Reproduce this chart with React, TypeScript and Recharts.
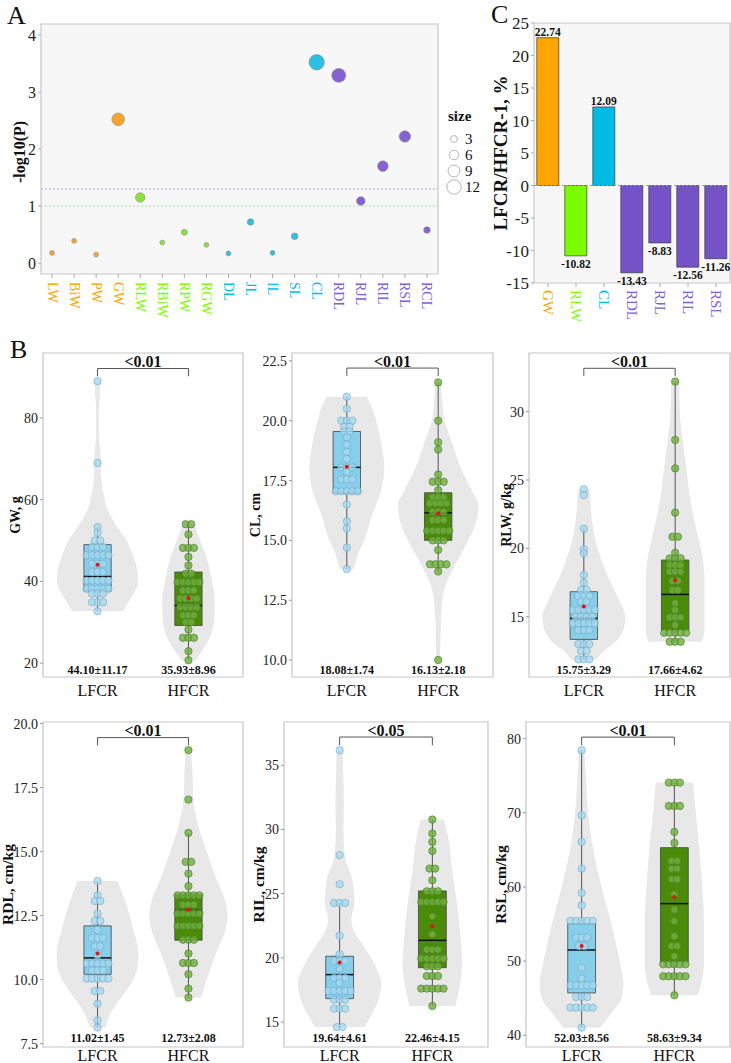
import React from 'react';
import {
  ScatterChart, Scatter, XAxis, YAxis, CartesianGrid, ReferenceLine, ReferenceArea, Legend,
  BarChart, Bar, Cell, LabelList, ComposedChart, Area, Line,
} from 'recharts';

const SERIF = '"Liberation Serif", "Times New Roman", serif';

// ---- A: -log10(P) per trait
const traitNames = ['LW', 'BiW', 'PW', 'GW', 'RLW', 'RBiW', 'RPW', 'RGW', 'DL', 'JL', 'IL', 'SL', 'CL', 'RDL', 'RJL', 'RIL', 'RSL', 'RCL'];
const traitGroups = ['w', 'w', 'w', 'w', 'rw', 'rw', 'rw', 'rw', 'l', 'l', 'l', 'l', 'l', 'rl', 'rl', 'rl', 'rl', 'rl'];
const traitNegLogP = [0.18, 0.39, 0.15, 2.52, 1.15, 0.36, 0.54, 0.32, 0.17, 0.72, 0.18, 0.47, 3.52, 3.29, 1.09, 1.7, 2.22, 0.58];
const traitSize = [0.5, 0.5, 0.5, 9.8, 6, 0.5, 1.9, 0.5, 0.5, 2.4, 0.5, 2.6, 13.1, 11.4, 5, 7.4, 8.3, 2.6];
const sizeBreaks = [3, 6, 9, 12];
const aTicks = [0, 1, 2, 3, 4];

// ---- C: LFCR/HFCR - 1
const changeNames = ['GW', 'RLW', 'CL', 'RDL', 'RJL', 'RIL', 'RSL'];
const changeGroups = ['w', 'rw', 'l', 'rl', 'rl', 'rl', 'rl'];
const changeValues = [22.74, -10.82, 12.09, -13.43, -8.83, -12.56, -11.26];
const cTicks = [-15, -10, -5, 0, 5, 10, 15, 20, 25];

// ---- B: per-animal values, LFCR vs HFCR
const groupNames = ['LFCR', 'HFCR'];

const gwLow = [89, 69, 53.3, 51.9, 50, 50, 48.4, 48.4, 48.4, 46.4, 46.4, 46.4, 46.4, 46.4, 44.3, 44.3, 44.3, 42.3, 42.3, 42.3, 40.2, 40.2, 40.2, 40.2, 40.2, 38.2, 38.2, 38.2, 38.2, 38.2, 37, 37, 37, 34.9, 34.9, 34.9, 32.7];
const gwHigh = [54, 54, 51.5, 48.2, 48.2, 48.2, 46, 43.9, 41.9, 41.9, 39.8, 39.8, 39.8, 39.8, 39.8, 37.8, 37.8, 37.8, 35.8, 35.8, 35.8, 35.8, 33.7, 33.7, 33.7, 33.7, 31.7, 31.7, 31.7, 30, 30, 28.2, 26.2, 26.2, 26.2, 22.9, 20.7];
const gwLowViolin = [[32.7, 0.28], [35, 0.34], [37.5, 0.41], [40, 0.445], [42.5, 0.44], [45, 0.41], [47.5, 0.37], [50, 0.32], [52.5, 0.24], [55, 0.17], [58, 0.1], [61, 0.07], [64, 0.045], [67, 0.035], [69, 0.04], [72, 0.03], [76, 0.015], [80, 0.015], [84, 0.02], [87, 0.03], [88.9, 0.025]];
const gwHighViolin = [[20.7, 0.08], [23, 0.15], [26, 0.23], [30, 0.28], [35, 0.29], [40, 0.26], [45, 0.21], [50, 0.13], [54, 0.065]];
const gwBoxes = [[32.7, 37.6, 41.2, 49.0, 53.3], [20.7, 29.2, 34.1, 42.3, 54]];
const gwMeans = [44.1, 35.93];
const gwSds = [11.17, 8.96];

const clLow = [21.0, 20.5, 20.0, 20.0, 20.0, 19.75, 19.75, 19.55, 19.55, 19.3, 19.0, 18.7, 18.4, 18.05, 18.05, 18.05, 17.85, 17.55, 17.55, 17.55, 17.05, 17.05, 17.05, 17.05, 17.05, 16.5, 15.8, 15.5, 14.7, 13.8];
const clHigh = [21.6, 20.0, 19.1, 18.8, 17.75, 17.45, 17.45, 17.45, 17.1, 16.8, 16.8, 16.8, 16.55, 16.55, 16.55, 16.55, 16.2, 16.2, 16.2, 15.85, 15.85, 15.85, 15.4, 15.4, 15.4, 15.4, 15.4, 15.0, 15.0, 15.0, 14.6, 14.0, 14.0, 14.0, 14.0, 13.7, 10.0];
const clLowViolin = [[13.8, 0.08], [14.5, 0.13], [15, 0.19], [16, 0.27], [17, 0.37], [18, 0.41], [19, 0.38], [20, 0.32], [20.6, 0.27], [21, 0.22]];
const clHighViolin = [[10, 0.02], [11, 0.025], [12, 0.035], [13, 0.07], [14, 0.19], [15, 0.33], [16, 0.43], [16.5, 0.44], [17, 0.38], [18, 0.25], [19, 0.16], [20, 0.07], [21, 0.04], [21.6, 0.03]];
const clBoxes = [[13.8, 16.97, 18.05, 19.55, 21.0], [13.68, 15.0, 16.15, 16.99, 21.58]];
const clMeans = [18.08, 16.13];
const clSds = [1.74, 2.18];

const rlwLow = [24.32, 23.9, 21.44, 19.93, 19.63, 18.05, 17.49, 16.95, 16.95, 16.51, 16.51, 16.51, 16.1, 16.1, 15.49, 15.49, 15.49, 15.49, 15.49, 15.0, 15.0, 15.0, 15.0, 14.51, 14.51, 14.51, 14.51, 14.51, 14.02, 14.02, 14.02, 13.0, 13.0, 13.0, 12.5, 12.5, 11.88, 11.88, 11.88];
const rlwHigh = [32.2, 27.93, 25.85, 22.61, 20.85, 20.85, 19.68, 19.27, 19.27, 19.27, 18.78, 18.78, 18.78, 18.29, 18.29, 18.29, 17.61, 17.61, 16.95, 16.95, 15.98, 15.49, 14.95, 14.95, 14.95, 14.39, 13.83, 13.83, 13.83, 13.83, 13.83, 13.17, 13.17, 13.17];
const rlwLowViolin = [[11.88, 0.14], [12.5, 0.22], [13, 0.32], [14, 0.43], [15, 0.455], [16, 0.4], [17, 0.33], [18, 0.26], [19, 0.2], [20, 0.15], [22, 0.09], [24.3, 0.065]];
const rlwHighViolin = [[13.17, 0.29], [14, 0.32], [16, 0.32], [18, 0.32], [20, 0.28], [22, 0.21], [24, 0.155], [26, 0.12], [28, 0.08], [30, 0.05], [32.2, 0.045]];
const rlwBoxes = [[11.88, 13.34, 14.88, 16.83, 21.44], [13.17, 14.02, 16.63, 19.15, 32.2]];
const rlwMeans = [15.75, 17.66];
const rlwSds = [3.29, 4.62];

const rdlLow = [13.85, 13.29, 13.07, 13.07, 12.58, 12.29, 12.29, 11.95, 11.63, 11.63, 11.63, 11.3, 11.3, 10.95, 10.63, 10.63, 10.63, 10.63, 10.63, 10.36, 10.36, 10.36, 10.04, 10.04, 10.04, 10.04, 10.04, 9.56, 9.56, 9.06, 8.41, 8.13];
const rdlHigh = [18.96, 17.03, 15.73, 14.6, 14.6, 14.14, 13.65, 13.29, 13.29, 13.29, 13.29, 13.29, 12.93, 12.93, 12.93, 12.58, 12.58, 12.58, 12.58, 12.58, 12.1, 12.1, 12.1, 12.1, 12.1, 11.56, 11.56, 11.56, 11.02, 10.65, 10.65, 10.65, 10.21, 9.65, 9.3];
const rdlLowViolin = [[8.13, 0.09], [8.5, 0.12], [9, 0.2], [9.5, 0.3], [10, 0.39], [10.5, 0.44], [11, 0.45], [12, 0.39], [13, 0.31], [13.85, 0.22]];
const rdlHighViolin = [[9.3, 0.14], [10, 0.2], [11, 0.3], [12, 0.41], [12.5, 0.43], [13, 0.41], [14, 0.3], [15, 0.2], [16, 0.11], [17, 0.055], [18, 0.045], [18.96, 0.03]];
const rdlBoxes = [[8.13, 10.21, 10.85, 12.1, 13.85], [9.3, 11.54, 12.7, 13.33, 15.73]];
const rdlMeans = [11.02, 12.73];
const rdlSds = [1.45, 2.08];

const rilLow = [36.17, 28.0, 25.73, 24.27, 24.27, 24.27, 21.73, 20.27, 19.75, 19.75, 19.75, 19.13, 18.43, 18.43, 18.43, 18.04, 17.42, 17.42, 17.42, 17.42, 17.42, 16.74, 16.74, 16.74, 16.04, 16.04, 16.04, 14.6, 14.6];
const rilHigh = [30.77, 29.68, 29.03, 28.32, 26.95, 26.95, 26.04, 25.18, 25.18, 25.18, 24.35, 24.35, 24.35, 24.35, 24.35, 23.23, 21.83, 20.64, 20.64, 20.64, 19.94, 19.94, 19.94, 19.94, 19.94, 19.34, 19.34, 19.34, 18.58, 18.58, 18.58, 17.6, 17.6, 17.6, 17.6, 17.6, 16.25];
const rilLowViolin = [[14.6, 0.27], [15, 0.3], [16, 0.375], [17, 0.43], [18, 0.45], [19, 0.41], [20, 0.34], [21, 0.25], [22, 0.16], [23, 0.125], [24.3, 0.16], [26, 0.14], [28, 0.055], [30, 0.04], [32, 0.045], [34, 0.04], [36.2, 0.03]];
const rilHighViolin = [[16.25, 0.25], [17, 0.27], [18, 0.3], [19.5, 0.32], [21, 0.31], [23, 0.285], [25, 0.25], [27, 0.21], [29, 0.18], [30.77, 0.125]];
const rilBoxes = [[14.6, 16.82, 18.69, 20.12, 24.27], [16.25, 19.23, 21.36, 25.21, 30.77]];
const rilMeans = [19.64, 22.46];
const rilSds = [4.61, 4.15];

const rslLow = [78.43, 69.66, 66.07, 62.47, 59.19, 57.53, 55.42, 55.42, 55.42, 55.42, 55.42, 53.17, 53.17, 53.17, 52.04, 52.04, 49.12, 47.64, 46.74, 46.74, 46.74, 46.74, 46.74, 45.17, 45.17, 45.17, 43.73, 43.73, 43.73, 43.73, 43.73, 41.03];
const rslHigh = [74.07, 74.07, 74.07, 70.92, 70.92, 70.92, 67.42, 65.93, 63.51, 63.51, 62.47, 62.47, 61.03, 61.03, 59.0, 56.94, 55.37, 53.35, 52.04, 52.04, 50.65, 49.57, 49.57, 49.57, 49.57, 49.57, 47.96, 47.96, 47.96, 47.96, 47.96, 45.39];
const rslLowViolin = [[41.03, 0.2], [43, 0.32], [45, 0.43], [47, 0.45], [50, 0.41], [55, 0.32], [60, 0.215], [65, 0.125], [70, 0.07], [75, 0.045], [78.4, 0.03]];
const rslHighViolin = [[45.39, 0.25], [47, 0.29], [50, 0.32], [55, 0.32], [60, 0.3], [65, 0.27], [70, 0.23], [72, 0.215], [74.07, 0.2]];
const rslBoxes = [[41.03, 45.71, 51.5, 55.06, 78.43], [45.39, 49.89, 57.75, 65.3, 74.07]];
const rslMeans = [52.03, 58.63];
const rslSds = [8.56, 9.34];

// ---- colours
const groupText: Record<string, string> = { w: '#FFA500', rw: '#7CFC00', l: '#00BFEF', rl: '#7E60DD' };
const groupDot: Record<string, string> = { w: '#F9A42E', rw: '#8DE23A', l: '#2BC0E4', rl: '#8562D2' };
const groupBar: Record<string, string> = { w: '#FFA500', rw: '#7CFC00', l: '#00BCE3', rl: '#7452C8' };

const dotRadius = (s: number) => 2.2 + 0.42 * s;

const AxisTitle = (props: any) => {
  const { cx, cy, text, size } = props;
  return (
    <text x={cx} y={cy} transform={`rotate(-90 ${cx} ${cy})`} textAnchor="middle" dominantBaseline="central"
      fontFamily={SERIF} fontWeight="bold" fontSize={size} fill="#111">{text}</text>
  );
};

// ---------------- A
const aRows = traitNames.map((name, i) => ({ i, name, p: traitNegLogP[i], size: traitSize[i], group: traitGroups[i] }));

const TraitTick = (props: any) => {
  const { x, y, payload } = props;
  const i = payload.value;
  return (
    <text x={x} y={y} transform={`rotate(90 ${x} ${y})`} textAnchor="start" dominantBaseline="central"
      fontFamily={SERIF} fontSize={14} fill={groupText[traitGroups[i]]}>{traitNames[i]}</text>
  );
};

const SizeLegend = () => (
  <svg width={44} height={100} style={{ overflow: 'visible' }}>
    <text x={4} y={21} fontFamily={SERIF} fontWeight="bold" fontSize={15} fill="#111">size</text>
    {sizeBreaks.map((s, i) => (
      <g key={s}>
        <circle cx={10} cy={39 + i * 16} r={dotRadius(s)} fill="none" stroke="#b5b5b5" />
        <text x={21} y={39 + i * 16} dominantBaseline="central" fontFamily={SERIF} fontSize={15} fill="#111">{s}</text>
      </g>
    ))}
  </svg>
);

function PanelA() {
  return (
    <div style={{ position: 'absolute', left: 0, top: 0 }}>
      <ScatterChart width={480} height={330} margin={{ top: 24, right: 42, bottom: 0, left: 0 }}>
        <CartesianGrid horizontal={false} vertical={false} fill="#f7f7f7" />
        <ReferenceArea y1={-0.19} y2={4.19} fill="none" stroke="#c8c8c8" strokeWidth={1.2} ifOverflow="visible" />
        <XAxis type="number" dataKey="i" domain={[-0.5, 17.5]} ticks={aRows.map((r) => r.i)} interval={0}
          allowDataOverflow height={56} axisLine={false} tickSize={4} tickMargin={4}
          tickLine={{ stroke: '#aaa' }} tick={<TraitTick />} />
        <YAxis type="number" dataKey="p" domain={[-0.19, 4.19]} ticks={aTicks} interval={0} allowDataOverflow
          width={41} axisLine={false} tickSize={3} tickMargin={2} tickLine={{ stroke: '#aaa' }}
          tick={{ fill: '#222', fontSize: 16, fontFamily: SERIF }}
          label={<AxisTitle cx={19} cy={152} text="-log10(P)" size={16} />} />
        <ReferenceLine y={1.3} stroke="#a3a3ee" strokeDasharray="2 2" />
        <ReferenceLine y={1} stroke="#9fe39f" strokeDasharray="2 2" />
        <Scatter data={aRows} isAnimationActive={false}
          shape={(p: any) => (
            <circle cx={p.cx} cy={p.cy} r={dotRadius(p.payload.size)} fill={groupDot[p.payload.group]}
              stroke="#8c8c8c" strokeWidth={0.6} />
          )} />
        <Legend layout="vertical" align="center" verticalAlign="middle" content={SizeLegend}
          wrapperStyle={{ left: 444, top: 100, width: 44, height: 100, right: 'auto', bottom: 'auto' }} />
      </ScatterChart>
    </div>
  );
}

// ---------------- C
const cRows = changeNames.map((name, i) => ({ name, value: changeValues[i], group: changeGroups[i] }));

const ChangeTick = (props: any) => {
  const { x, y, payload, index } = props;
  return (
    <text x={x} y={y} transform={`rotate(90 ${x} ${y})`} textAnchor="start" dominantBaseline="central"
      fontFamily={SERIF} fontSize={15} fill={groupText[changeGroups[index]]}>{payload.value}</text>
  );
};

const BarValue = (props: any) => {
  const { x, y, width, height, value } = props;
  const top = Math.min(y, y + height);
  const bottom = Math.max(y, y + height);
  const ty = value >= 0 ? top - 6 : bottom + 8;
  return (
    <text x={x + width / 2} y={ty} textAnchor="middle" dominantBaseline="central" fontFamily={SERIF}
      fontWeight="bold" fontSize={11.5} fill="#111">{Number(value).toFixed(2)}</text>
  );
};

function PanelC() {
  return (
    <div style={{ position: 'absolute', left: 480, top: 0 }}>
      <BarChart width={251} height={330} data={cRows} margin={{ top: 23, right: 1, left: 0, bottom: 0 }} barCategoryGap="10%">
        <CartesianGrid horizontal={false} vertical={false} fill="#f7f7f7" />
        <ReferenceArea y1={-15} y2={25} fill="none" stroke="#c8c8c8" strokeWidth={1.2} ifOverflow="visible" />
        <XAxis dataKey="name" interval={0} height={47} axisLine={false} tickSize={4} tickMargin={3}
          tickLine={{ stroke: '#aaa' }} tick={<ChangeTick />} />
        <YAxis type="number" domain={[-15, 25]} ticks={cTicks} interval={0} allowDataOverflow width={54}
          axisLine={false} tickSize={3} tickMargin={2} tickLine={{ stroke: '#aaa' }}
          tick={{ fill: '#222', fontSize: 17, fontFamily: SERIF }}
          label={<AxisTitle cx={20} cy={153} text="LFCR/HFCR-1, %" size={19} />} />
        <ReferenceLine y={0} stroke="#9a9a9a" strokeDasharray="2 2" />
        <Bar dataKey="value" isAnimationActive={false} stroke="#3a3a3a" strokeWidth={0.7}>
          {cRows.map((r) => <Cell key={r.name} fill={groupBar[r.group]} />)}
          <LabelList dataKey="value" content={<BarValue />} />
        </Bar>
      </BarChart>
    </div>
  );
}

// ---------------- B
const HALF_BOX = 0.15;
const DOT_STEP = 0.06;

function violinRows(profile: number[][], c: number) {
  return profile.map(([v, w]) => ({ v, r: [c - w, c + w] }));
}
function boxFillRows(b: number[], c: number) {
  return [{ v: b[1], r: [c - HALF_BOX, c + HALF_BOX] }, { v: b[3], r: [c - HALF_BOX, c + HALF_BOX] }];
}
function boxOutlineRows(b: number[], c: number) {
  return [
    { x: c - HALF_BOX, v: b[1] }, { x: c + HALF_BOX, v: b[1] }, { x: c + HALF_BOX, v: b[3] },
    { x: c - HALF_BOX, v: b[3] }, { x: c - HALF_BOX, v: b[1] },
  ];
}
function swarmRows(values: number[], c: number) {
  const counts = new Map<number, number>();
  values.forEach((v) => counts.set(v, (counts.get(v) || 0) + 1));
  const seen = new Map<number, number>();
  return values.map((v) => {
    const n = counts.get(v) || 1;
    const k = seen.get(v) || 0;
    seen.set(v, k + 1);
    return { x: c + (k - (n - 1) / 2) * DOT_STEP, v };
  });
}

type PanelCfg = {
  id: string; yLabel: string; plot: number[]; labelX: number; yDomain: number[]; yTicks: number[]; digits: number;
  values: number[][]; violins: number[][][]; boxes: number[][]; means: number[]; sds: number[];
  bracket: number[]; pText: string; big: boolean;
};

const panels: PanelCfg[] = [
  { id: 'gw', yLabel: 'GW, g', plot: [43, 353, 243, 677], labelX: 15, yDomain: [16.6, 95.9], yTicks: [20, 40, 60, 80], digits: 0,
    values: [gwLow, gwHigh], violins: [gwLowViolin, gwHighViolin], boxes: gwBoxes, means: gwMeans, sds: gwSds,
    bracket: [92.1, 90.2], pText: '<0.01', big: false },
  { id: 'cl', yLabel: 'CL, cm', plot: [292, 353, 493, 677], labelX: 255, yDomain: [9.29, 22.83], yTicks: [10, 12.5, 15, 17.5, 20, 22.5], digits: 1,
    values: [clLow, clHigh], violins: [clLowViolin, clHighViolin], boxes: clBoxes, means: clMeans, sds: clSds,
    bracket: [22.2, 21.87], pText: '<0.01', big: false },
  { id: 'rlw', yLabel: 'RLW, g/kg', plot: [529, 353, 730, 677], labelX: 506, yDomain: [10.59, 34.29], yTicks: [15, 20, 25, 30], digits: 0,
    values: [rlwLow, rlwHigh], violins: [rlwLowViolin, rlwHighViolin], boxes: rlwBoxes, means: rlwMeans, sds: rlwSds,
    bracket: [33.17, 32.6], pText: '<0.01', big: false },
  { id: 'rdl', yLabel: 'RDL, cm/kg', plot: [43, 722, 243, 1047], labelX: 7, yDomain: [7.37, 20.06], yTicks: [7.5, 10, 12.5, 15, 17.5, 20], digits: 1,
    values: [rdlLow, rdlHigh], violins: [rdlLowViolin, rdlHighViolin], boxes: rdlBoxes, means: rdlMeans, sds: rdlSds,
    bracket: [19.45, 19.15], pText: '<0.01', big: true },
  { id: 'ril', yLabel: 'RIL, cm/kg', plot: [284, 722, 488, 1047], labelX: 258, yDomain: [13.05, 38.37], yTicks: [15, 20, 25, 30, 35], digits: 0,
    values: [rilLow, rilHigh], violins: [rilLowViolin, rilHighViolin], boxes: rilBoxes, means: rilMeans, sds: rilSds,
    bracket: [37.2, 36.56], pText: '<0.05', big: true },
  { id: 'rsl', yLabel: 'RSL, cm/kg', plot: [526, 722, 730, 1047], labelX: 500, yDomain: [38.42, 82.24], yTicks: [40, 50, 60, 70, 80], digits: 0,
    values: [rslLow, rslHigh], violins: [rslLowViolin, rslHighViolin], boxes: rslBoxes, means: rslMeans, sds: rslSds,
    bracket: [80.2, 79.1], pText: '<0.01', big: true },
];

const dotStyle = [
  { fill: '#a4d8ef', stroke: '#6fa7c6', opacity: 0.75 },
  { fill: '#6fae3f', stroke: '#477a22', opacity: 0.8 },
];
const boxFill = ['#87CEEB', '#4B8B0A'];

const GroupTick = (props: any) => {
  const { x, y, payload, stats, statDy, labelDy } = props;
  const i = Math.round(payload.value) - 1;
  return (
    <g>
      <text x={x} y={y - statDy} textAnchor="middle" dominantBaseline="central" fontFamily={SERIF}
        fontWeight="bold" fontSize={12} fill="#111">{stats[i]}</text>
      <text x={x} y={y + labelDy} textAnchor="middle" dominantBaseline="central" fontFamily={SERIF}
        fontSize={16} fill="#111">{groupNames[i]}</text>
    </g>
  );
};

function ViolinPanel({ cfg }: { cfg: PanelCfg }) {
  const [pl, pt, pr, pb] = cfg.plot;
  const chartLeft = Math.max(0, cfg.labelX - 10);
  const mTop = 12;
  const mRight = 2;
  const xh = 30;
  const width = pr - chartLeft + mRight;
  const height = mTop + (pb - pt) + xh;
  const stats = cfg.means.map((m, i) => `${m.toFixed(2)}±${cfg.sds[i].toFixed(2)}`);
  const [bTop, bLeg] = cfg.bracket;
  const bracketRows = [{ x: 1, v: bLeg }, { x: 1, v: bTop }, { x: 2, v: bTop }, { x: 2, v: bLeg }];
  const centers = [1, 2];

  return (
    <div style={{ position: 'absolute', left: chartLeft, top: pt - mTop }}>
      <ComposedChart layout="vertical" width={width} height={height} margin={{ top: mTop, right: mRight, left: 0, bottom: 0 }}>
        <XAxis type="number" dataKey="x" domain={[0.4, 2.6]} ticks={centers} interval={0} allowDataOverflow
          axisLine={false} tickLine={false} tickSize={0} tickMargin={0} height={xh}
          tick={<GroupTick stats={stats} statDy={cfg.big ? 9 : 7} labelDy={cfg.big ? 8 : 13} />} />
        <YAxis type="number" dataKey="v" domain={cfg.yDomain} ticks={cfg.yTicks} interval={0} allowDataOverflow reversed
          width={pl - chartLeft} axisLine={false} tickSize={3} tickMargin={2} tickLine={{ stroke: '#999' }}
          tick={{ fill: '#222', fontSize: 14, fontFamily: SERIF }}
          tickFormatter={(v: number) => v.toFixed(cfg.digits)}
          label={<AxisTitle cx={cfg.labelX - chartLeft} cy={mTop + (pb - pt) / 2} text={cfg.yLabel} size={cfg.big ? 15.5 : 14} />} />
        <ReferenceArea y1={cfg.yDomain[0]} y2={cfg.yDomain[1]} fill="none" stroke="#c6c6c6" strokeWidth={1.2} ifOverflow="visible" />
        {centers.map((c, g) => (
          <Area key={`vio${g}`} data={violinRows(cfg.violins[g], c)} dataKey="r" type="monotone"
            fill="#e8e8e8" fillOpacity={1} stroke="none" isAnimationActive={false} />
        ))}
        {centers.map((c, g) => (
          <Area key={`box${g}`} data={boxFillRows(cfg.boxes[g], c)} dataKey="r" type="linear"
            fill={boxFill[g]} fillOpacity={1} stroke="none" isAnimationActive={false} />
        ))}
        {centers.map((c, g) => (
          <Line key={`wlo${g}`} data={[{ x: c, v: cfg.boxes[g][0] }, { x: c, v: cfg.boxes[g][1] }]} dataKey="x"
            stroke="#555" strokeWidth={1} dot={false} activeDot={false} isAnimationActive={false} />
        ))}
        {centers.map((c, g) => (
          <Line key={`whi${g}`} data={[{ x: c, v: cfg.boxes[g][3] }, { x: c, v: cfg.boxes[g][4] }]} dataKey="x"
            stroke="#555" strokeWidth={1} dot={false} activeDot={false} isAnimationActive={false} />
        ))}
        {centers.map((c, g) => (
          <Line key={`out${g}`} data={boxOutlineRows(cfg.boxes[g], c)} dataKey="x"
            stroke="#444" strokeWidth={0.8} dot={false} activeDot={false} isAnimationActive={false} />
        ))}
        {centers.map((c, g) => (
          <Scatter key={`dots${g}`} data={swarmRows(cfg.values[g], c)} isAnimationActive={false}
            shape={(p: any) => (
              <circle cx={p.cx} cy={p.cy} r={3.7} fill={dotStyle[g].fill} fillOpacity={dotStyle[g].opacity}
                stroke={dotStyle[g].stroke} strokeWidth={0.6} />
            )} />
        ))}
        {centers.map((c, g) => (
          <Line key={`med${g}`} data={[{ x: c - HALF_BOX, v: cfg.boxes[g][2] }, { x: c + HALF_BOX, v: cfg.boxes[g][2] }]}
            dataKey="x" stroke="#111" strokeWidth={1.5} dot={false} activeDot={false} isAnimationActive={false} />
        ))}
        <Scatter data={centers.map((c, g) => ({ x: c, v: cfg.means[g] }))} isAnimationActive={false}
          shape={(p: any) => <circle cx={p.cx} cy={p.cy} r={2} fill="#e3141b" />} />
        <Line data={bracketRows} dataKey="x" stroke="#555" strokeWidth={1} dot={false} activeDot={false} isAnimationActive={false} />
        <Scatter data={[{ x: 1.5, v: bTop }]} isAnimationActive={false}
          shape={(p: any) => (
            <text x={p.cx} y={p.cy - 7} textAnchor="middle" dominantBaseline="central" fontFamily={SERIF}
              fontWeight="bold" fontSize={16} fill="#111">{cfg.pText}</text>
          )} />
      </ComposedChart>
    </div>
  );
}

export default function App() {
  return (
    <div style={{ position: 'absolute', left: 0, top: 0, width: 731, height: 1063, overflow: 'hidden', background: '#fff', fontFamily: SERIF }}>
      <PanelA />
      <PanelC />
      {panels.map((cfg) => <ViolinPanel key={cfg.id} cfg={cfg} />)}
      <svg width={731} height={1063} style={{ position: 'absolute', left: 0, top: 0, pointerEvents: 'none' }}>
        <text x={7} y={24} fontFamily={SERIF} fontSize={26} fill="#111">A</text>
        <text x={491} y={23} fontFamily={SERIF} fontSize={26} fill="#111">C</text>
        <text x={10} y={358} fontFamily={SERIF} fontSize={26} fill="#111">B</text>
      </svg>
    </div>
  );
}
